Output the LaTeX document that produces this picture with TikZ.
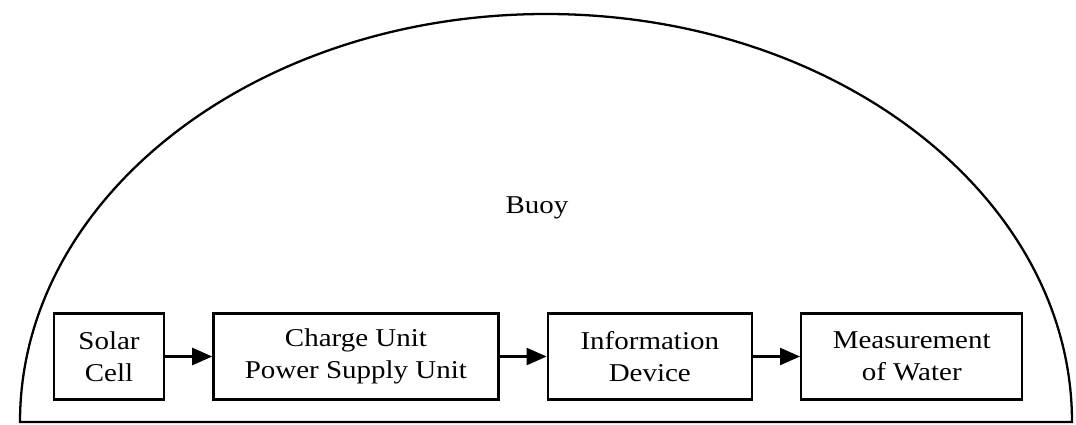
\documentclass[tikz,border=0pt]{standalone}
\usepackage{fontspec}
\setmainfont{Liberation Serif}[FakeStretch=1.13]
\usetikzlibrary{positioning,arrows.meta}

\begin{document}
\begin{tikzpicture}[x=0.02cm, y=0.02cm, node distance=0.94cm,
  every node/.style={font=\fontsize{14.6}{18.2}\selectfont},
  unit/.style={draw, line width=1.4pt, minimum height=1.72cm, align=center, inner sep=0pt},
  flow/.style={-{Triangle[length=0.4cm, width=0.34cm]}, line width=1.4pt}]
  \useasboundingbox (0,0) rectangle (1076,424);
  \draw[line width=1.3pt] (20,2) arc[start angle=180, end angle=0, x radius=526, y radius=408] -- cycle;
  \node(buoy) at (537,216) {Buoy};
  \node(solar)[unit, minimum width=2.2cm] at (109,67.5) {Solar\\Cell};
  \node(charge)[unit, minimum width=5.7cm, right=of solar] {Charge Unit\\Power Supply Unit};
  \node(info)[unit, minimum width=4.08cm, right=of charge] {Information\\Device};
  \node(water)[unit, minimum width=4.42cm, right=of info] {Measurement\\of Water};
  \draw[flow] (solar) -- (charge);
  \draw[flow] (charge) -- (info);
  \draw[flow] (info) -- (water);
\end{tikzpicture}
\end{document}
